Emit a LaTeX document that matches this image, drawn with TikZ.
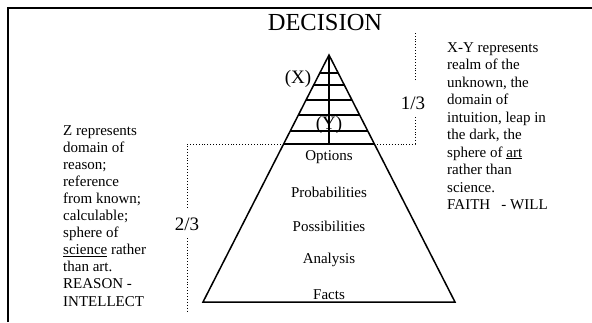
\documentclass[tikz,border=0pt]{standalone}
\usepackage{fontspec}
\setmainfont{Liberation Serif}
\usetikzlibrary{calc,positioning}

\begin{document}
\begin{tikzpicture}[
    x=1pt, y=-1pt,
    every node/.style={font=\fontsize{15}{17.2}\selectfont, inner sep=0pt},
    side/.style={align=left, anchor=north west},
    level/.style={anchor=center},
    frac/.style={font=\fontsize{19}{19}\selectfont},
    title/.style={font=\fontsize{24.5}{24.5}\selectfont},
    edge/.style={line width=1.5pt},
    hatch/.style={line width=1.3pt},
    guide/.style={line width=0.9pt, dotted},
    frame/.style={line width=1.6pt}
]
    \useasboundingbox (0,0) rectangle (592,322);

    % Frame
    \coordinate (corner) at (8,8);
    \coordinate (ftop) at (592,8);
    \coordinate (fbot) at (8,322);
    \draw[frame] (fbot) -- (corner) -- (ftop);

    % Title
    \node[title] (decision) at (325,23) {DECISION};

    % Pyramid
    \coordinate (apex) at (329,55);
    \coordinate (bl) at (203,302);
    \coordinate (br) at (455,302);
    \draw[edge] (bl) -- (apex) -- (br) -- cycle;

    % Hatching between X and Y
    \foreach \t [count=\i] in {0.0729,0.1215,0.1822,0.2429,0.3077,0.3603}
        \draw[hatch] ($(apex)!\t!(bl)$) coordinate (hl\i) -- ($(apex)!\t!(br)$) coordinate (hr\i);
    \draw[hatch] (apex) -- (apex |- hl6);
    \node[frac] (x) at (298,79) {(X)};
    \node[frac] (y) at (329,125) {(Y)};

    % Levels
    \foreach \name/\ypos in {Options/157,Probabilities/192,Possibilities/226,Analysis/260,Facts/295}
        \node[level] (\name) at (329,\ypos) {\name};

    % Dotted guides with fractions
    \node[frac] (third) at (413,103) {1/3};
    \node[frac] (twothirds) at (187,224) {2/3};
    \coordinate (rtop) at (415,33);
    \coordinate (rgapa) at (415,80);
    \coordinate (rgapb) at (415,115);
    \coordinate (lgapa) at (187,207);
    \coordinate (lgapb) at (187,238);
    \coordinate (lbot) at (187,312);
    \draw[guide] (hr6) -- (hr6 -| rtop) -- (rgapb);
    \draw[guide] (rgapa) -- (rtop);
    \draw[guide] (hl6) -- (hl6 -| lbot) -- (lgapa);
    \draw[guide] (lgapb) -- (lbot);

    % Side notes
    \node[side, font=\fontsize{15}{17.5}\selectfont] (xynote) at (447,42) {X-Y represents\\realm of the\\unknown, the\\domain of\\intuition, leap in\\the dark, the\\sphere of \underline{art}\\rather than\\science.\\FAITH~~~- WILL};
    \node[side, font=\fontsize{15}{17.1}\selectfont] (znote) at (63,125) {Z represents\\domain of\\reason;\\reference\\from known;\\calculable;\\sphere of\\\underline{science} rather\\than art.\\REASON -\\INTELLECT};
\end{tikzpicture}
\end{document}
